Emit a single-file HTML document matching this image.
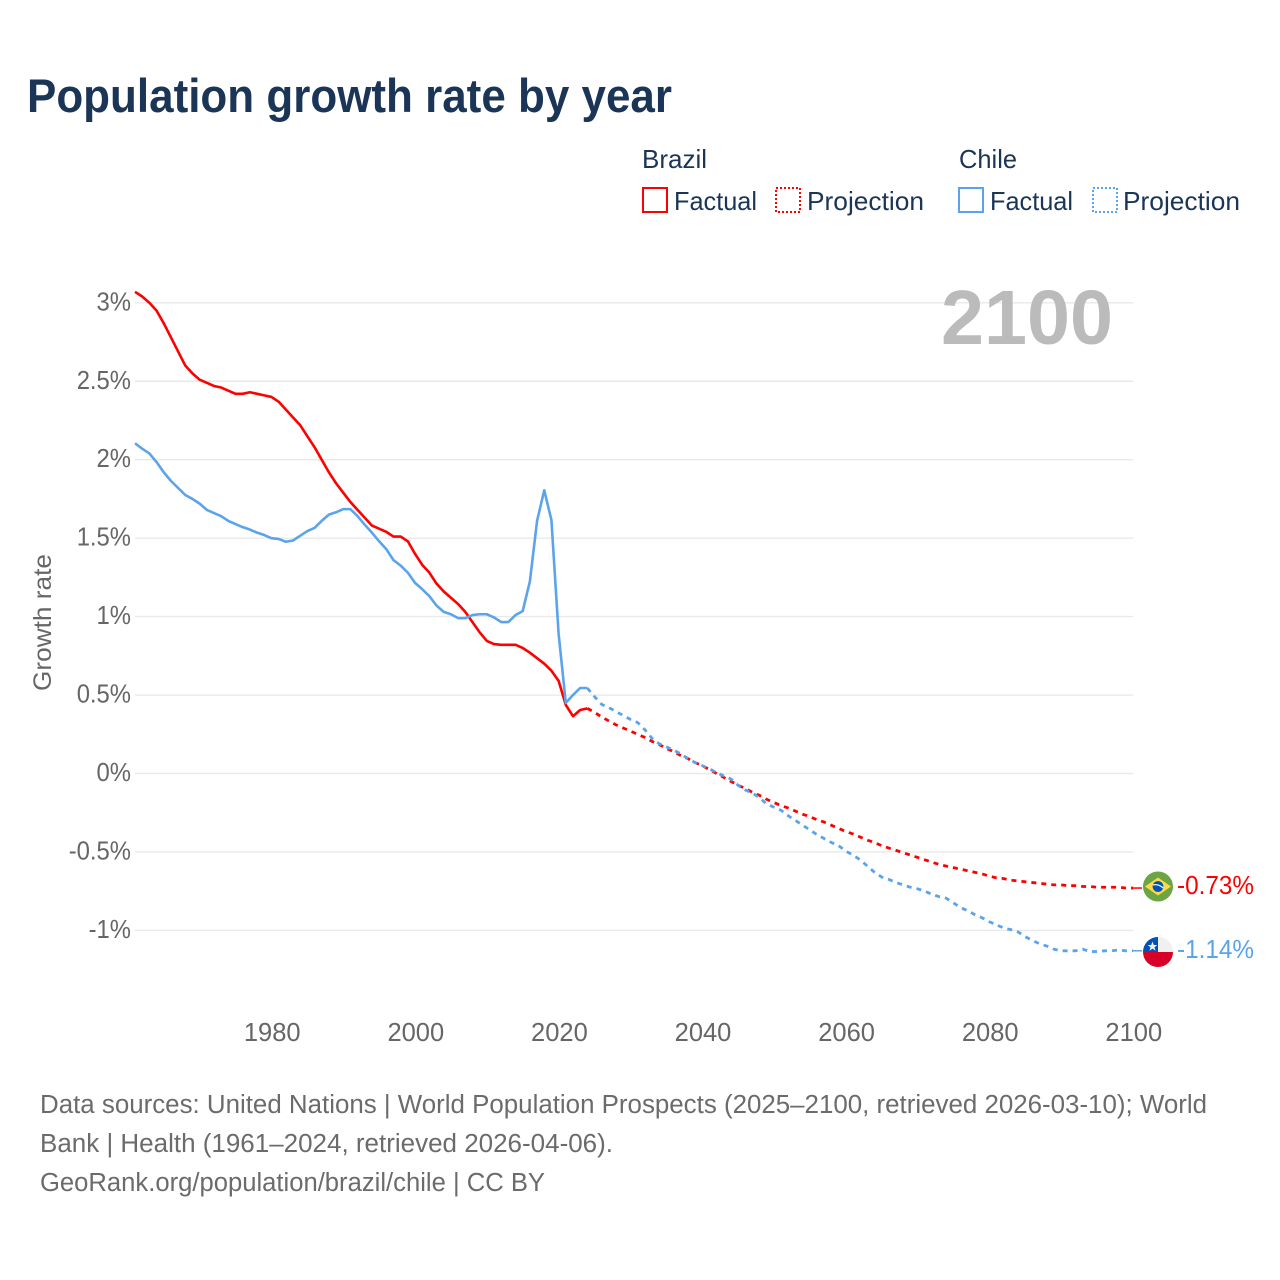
<!DOCTYPE html>
<html lang="en">
<head>
<meta charset="utf-8">
<title>Population growth rate by year</title>
<style>
html,body{margin:0;padding:0;background:#fff;}
svg{display:block;font-family:"Liberation Sans",sans-serif;}
</style>
</head>
<body>
<svg id="chart" xmlns="http://www.w3.org/2000/svg" width="1280" height="1280" viewBox="0 0 1280 1280">
  <rect x="0" y="0" width="1280" height="1280" fill="#fff"/>
  <text x="27" y="112" font-size="47" font-weight="700" fill="#1a3556" textLength="645" lengthAdjust="spacingAndGlyphs">Population growth rate by year</text>

  <g font-size="26" fill="#1a3556">
    <text x="642" y="168" textLength="65" lengthAdjust="spacingAndGlyphs">Brazil</text>
    <text x="959" y="168" textLength="58" lengthAdjust="spacingAndGlyphs">Chile</text>
    <rect x="643" y="188" width="24" height="24" fill="none" stroke="#ff0000" stroke-width="2"/>
    <text x="674" y="210" textLength="83" lengthAdjust="spacingAndGlyphs">Factual</text>
    <rect x="776" y="188" width="24" height="24" fill="none" stroke="#ff0000" stroke-width="2" stroke-dasharray="2 2"/>
    <text x="807" y="210" textLength="117" lengthAdjust="spacingAndGlyphs">Projection</text>
    <rect x="959" y="188" width="24" height="24" fill="none" stroke="#5ba4ec" stroke-width="2"/>
    <text x="990" y="210" textLength="83" lengthAdjust="spacingAndGlyphs">Factual</text>
    <rect x="1093" y="188" width="24" height="24" fill="none" stroke="#5ba4ec" stroke-width="2" stroke-dasharray="2 2"/>
    <text x="1123" y="210" textLength="117" lengthAdjust="spacingAndGlyphs">Projection</text>
  </g>

  <g id="grid"></g>
  <g id="y-ticks"></g>
  <g id="x-ticks"></g>

  <text transform="translate(51 622.5) rotate(-90)" text-anchor="middle" font-size="25" fill="#666" textLength="137" lengthAdjust="spacingAndGlyphs">Growth rate</text>
  <text x="941" y="344" font-size="77" font-weight="700" fill="#bbbbbb" textLength="172" lengthAdjust="spacingAndGlyphs">2100</text>

  <g id="series"></g>

  <defs>
    <clipPath id="clip-flag-br"><circle cx="1158" cy="886.5" r="15"/></clipPath>
    <clipPath id="clip-flag-cl"><circle cx="1158" cy="952" r="15"/></clipPath>
  </defs>
  <g clip-path="url(#clip-flag-br)">
    <rect x="1143" y="871" width="30" height="31" fill="#6da544"/>
    <polygon points="1158,877.5 1171,886.5 1158,895.5 1145,886.5" fill="#ffda44"/>
    <circle cx="1158" cy="886.5" r="5.4" fill="#0052b4"/>
    <path d="M1152.8 885 Q1158 883.5 1163.3 888" fill="none" stroke="#f0f0f0" stroke-width="1.3"/>
  </g>
  <g clip-path="url(#clip-flag-cl)">
    <rect x="1143" y="937" width="30" height="15" fill="#f0f0f0"/>
    <rect x="1143" y="937" width="15" height="15" fill="#0052b4"/>
    <rect x="1143" y="952" width="30" height="15" fill="#d80027"/>
    <polygon points="1152.5,941.5 1153.8,945 1157.4,945 1154.5,947.2 1155.6,950.7 1152.5,948.6 1149.4,950.7 1150.5,947.2 1147.6,945 1151.2,945" fill="#f0f0f0"/>
  </g>
  <text x="1177" y="894" font-size="26" fill="#ff0000" textLength="77" lengthAdjust="spacingAndGlyphs">-0.73%</text>
  <text x="1177" y="958" font-size="26" fill="#5ba4ec" textLength="77" lengthAdjust="spacingAndGlyphs">-1.14%</text>

  <g font-size="25.5" fill="#6b6b6b">
    <text x="40" y="1113" textLength="1167" lengthAdjust="spacingAndGlyphs">Data sources: United Nations | World Population Prospects (2025–2100, retrieved 2026-03-10); World</text>
    <text x="40" y="1152" textLength="573" lengthAdjust="spacingAndGlyphs">Bank | Health (1961–2024, retrieved 2026-04-06).</text>
    <text x="40" y="1191" textLength="505" lengthAdjust="spacingAndGlyphs">GeoRank.org/population/brazil/chile | CC BY</text>
  </g>
</svg>
<script>
const firstFactualYear = 1961;
const firstProjectionYear = 2024;
const yTickValues = [3, 2.5, 2, 1.5, 1, 0.5, 0, -0.5, -1];
const yTickLabels = ["3%", "2.5%", "2%", "1.5%", "1%", "0.5%", "0%", "-0.5%", "-1%"];
const xTickYears = [1980, 2000, 2020, 2040, 2060, 2080, 2100];

const brazilFactual = [3.07,3.04,3.00,2.95,2.87,2.78,2.69,2.60,2.55,2.51,2.49,2.47,2.46,2.44,2.42,2.42,2.43,2.42,2.41,2.40,2.37,2.32,2.27,2.22,2.15,2.08,2.00,1.92,1.85,1.79,1.73,1.68,1.63,1.58,1.56,1.54,1.51,1.51,1.48,1.40,1.33,1.28,1.21,1.16,1.12,1.08,1.03,0.965,0.90,0.845,0.825,0.82,0.82,0.82,0.80,0.77,0.735,0.70,0.655,0.59,0.437,0.365,0.405,0.415];
const chileFactual = [2.105,2.07,2.04,1.985,1.92,1.865,1.82,1.775,1.75,1.72,1.68,1.66,1.64,1.61,1.59,1.57,1.555,1.535,1.52,1.50,1.495,1.477,1.485,1.515,1.545,1.565,1.61,1.65,1.665,1.685,1.685,1.64,1.585,1.535,1.48,1.43,1.36,1.325,1.28,1.215,1.175,1.13,1.07,1.03,1.015,0.99,0.99,1.01,1.015,1.015,0.995,0.965,0.965,1.01,1.035,1.225,1.61,1.805,1.615,0.89,0.45,0.50,0.545,0.545];
const brazilProjection = [0.415,0.39,0.36,0.335,0.31,0.29,0.27,0.25,0.23,0.205,0.185,0.16,0.14,0.115,0.095,0.07,0.05,0.025,0.0,-0.025,-0.05,-0.075,-0.095,-0.12,-0.14,-0.165,-0.185,-0.205,-0.22,-0.24,-0.26,-0.275,-0.295,-0.31,-0.33,-0.35,-0.37,-0.385,-0.405,-0.425,-0.44,-0.46,-0.475,-0.49,-0.505,-0.52,-0.535,-0.55,-0.565,-0.58,-0.59,-0.60,-0.61,-0.62,-0.63,-0.64,-0.655,-0.665,-0.67,-0.68,-0.685,-0.69,-0.695,-0.70,-0.705,-0.71,-0.71,-0.715,-0.715,-0.72,-0.72,-0.725,-0.725,-0.725,-0.725,-0.73,-0.73];
const chileProjection = [0.545,0.49,0.44,0.42,0.395,0.37,0.345,0.325,0.28,0.225,0.19,0.17,0.15,0.125,0.095,0.07,0.05,0.03,0.005,-0.015,-0.035,-0.075,-0.105,-0.125,-0.155,-0.195,-0.215,-0.235,-0.27,-0.30,-0.33,-0.36,-0.39,-0.415,-0.44,-0.46,-0.495,-0.52,-0.55,-0.59,-0.63,-0.66,-0.675,-0.695,-0.71,-0.725,-0.735,-0.75,-0.77,-0.785,-0.795,-0.825,-0.855,-0.875,-0.90,-0.92,-0.945,-0.965,-0.985,-0.995,-1.01,-1.04,-1.065,-1.085,-1.10,-1.12,-1.13,-1.13,-1.13,-1.12,-1.135,-1.135,-1.13,-1.13,-1.125,-1.13,-1.13];

const SVG_NS = "http://www.w3.org/2000/svg";
const plot = { left: 135, right: 1133, top0: 773.5, perUnit: 156.9 };
const xScale = function (year) {
  return plot.left + (year - 1961) * (plot.right - plot.left) / 139;
};
const yScale = function (value) {
  return plot.top0 - value * plot.perUnit;
};
const make = function (tag, parent) {
  const el = document.createElementNS(SVG_NS, tag);
  parent.appendChild(el);
  return el;
};

const gridGroup = document.getElementById("grid");
const yTickGroup = document.getElementById("y-ticks");
yTickValues.forEach(function (value, i) {
  const line = make("line", gridGroup);
  
  
  line.setAttribute("x1", plot.left);
  line.setAttribute("x2", plot.right);
  line.setAttribute("y1", yScale(value));
  line.setAttribute("y2", yScale(value));
  line.setAttribute("stroke", "#e9e9e9");
  line.setAttribute("stroke-width", "1.4");

  const label = make("text", yTickGroup);
  
  
  label.setAttribute("x", 131);
  label.setAttribute("y", yScale(value) + 7.5);
  label.setAttribute("text-anchor", "end");
  label.setAttribute("font-size", "25.5");
  label.setAttribute("fill", "#666");
  label.textContent = yTickLabels[i];
  label.setAttribute("textLength", (label.getComputedTextLength() * 0.935).toFixed(1));
  label.setAttribute("lengthAdjust", "spacingAndGlyphs");
});

const xTickGroup = document.getElementById("x-ticks");
xTickYears.forEach(function (year) {
  const label = make("text", xTickGroup);
  
  
  label.setAttribute("x", xScale(year) + 0.8);
  label.setAttribute("y", 1041);
  label.setAttribute("text-anchor", "middle");
  label.setAttribute("font-size", "25.5");
  label.setAttribute("fill", "#666");
  label.textContent = String(year);
});

const seriesGroup = document.getElementById("series");
const drawLine = function (values, startYear, color, dashed, name) {
  const path = make("path", seriesGroup);
  
  
  const d = values.map(function (value, i) {
    return (i ? "L" : "M") + xScale(startYear + i).toFixed(2) + " " + yScale(value).toFixed(2);
  }).join(" ");
  path.setAttribute("d", d);
  path.setAttribute("fill", "none");
  path.setAttribute("stroke", color);
  path.setAttribute("stroke-width", dashed ? "2.8" : "2.6");
  path.setAttribute("stroke-linejoin", "round");
  if (dashed) {
    path.setAttribute("stroke-dasharray", "5 5");
  }
};
const drawConnector = function (value, color, name) {
  const line = make("line", seriesGroup);
  
  
  line.setAttribute("x1", xScale(2100));
  line.setAttribute("x2", 1142);
  line.setAttribute("y1", yScale(value));
  line.setAttribute("y2", yScale(value));
  line.setAttribute("stroke", color);
  line.setAttribute("stroke-width", "1.5");
};
drawLine(brazilProjection, firstProjectionYear, "#ff0000", true, "brazil-projection-line");
drawLine(chileProjection, firstProjectionYear, "#5ba4ec", true, "chile-projection-line");
drawLine(brazilFactual, firstFactualYear, "#ff0000", false, "brazil-factual-line");
drawLine(chileFactual, firstFactualYear, "#5ba4ec", false, "chile-factual-line");
drawConnector(brazilProjection[brazilProjection.length - 1], "#ff0000", "brazil-end-connector");
drawConnector(chileProjection[chileProjection.length - 1], "#5ba4ec", "chile-end-connector");
</script>
</body>
</html>
